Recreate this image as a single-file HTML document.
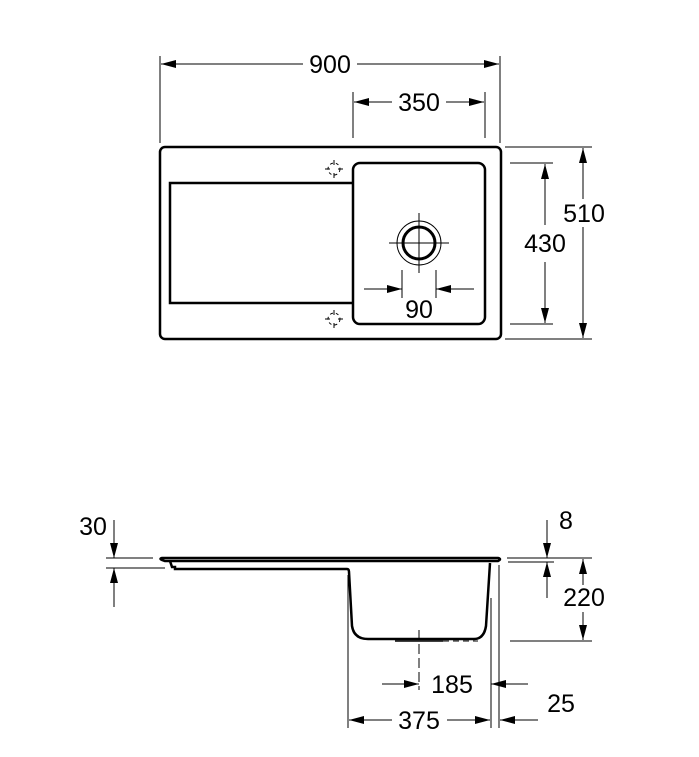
<!DOCTYPE html>
<html><head><meta charset="utf-8"><style>
html,body{margin:0;padding:0;background:#fff;}
svg{display:block;}
text{font-family:"Liberation Sans",Arial,sans-serif;font-size:25px;fill:#000;}
</style></head><body>
<svg width="699" height="757" viewBox="0 0 699 757" xmlns="http://www.w3.org/2000/svg">
<defs>
<marker id="a" markerWidth="15" markerHeight="8" refX="15" refY="4" orient="auto" markerUnits="userSpaceOnUse">
<path d="M0,0 L15,4 L0,8 Z" fill="#000"/>
</marker>
</defs>
<g stroke="#000" stroke-width="1" fill="none">
<line x1="160" y1="56" x2="160" y2="143"/>
<line x1="500" y1="56" x2="500" y2="143"/>
<line x1="303" y1="64" x2="161" y2="64" marker-end="url(#a)"/>
<line x1="357" y1="64" x2="499" y2="64" marker-end="url(#a)"/>
<line x1="353" y1="92" x2="353" y2="138"/>
<line x1="485" y1="92" x2="485" y2="138"/>
<line x1="392" y1="102" x2="354" y2="102" marker-end="url(#a)"/>
<line x1="446" y1="102" x2="484" y2="102" marker-end="url(#a)"/>
<line x1="505" y1="147" x2="592" y2="147"/>
<line x1="505" y1="339" x2="592" y2="339"/>
<line x1="583" y1="243" x2="583" y2="148" marker-end="url(#a)"/>
<line x1="583" y1="243" x2="583" y2="338" marker-end="url(#a)"/>
<line x1="510" y1="163" x2="553" y2="163"/>
<line x1="510" y1="324" x2="553" y2="324"/>
<line x1="545" y1="225" x2="545" y2="164" marker-end="url(#a)"/>
<line x1="545" y1="262" x2="545" y2="323" marker-end="url(#a)"/>
<rect x="160" y="147" width="341" height="192" rx="5" stroke-width="2.5"/>
<path d="M352,183 L170,183 L170,303 L352,303" stroke-width="2.5"/>
<rect x="353" y="163" width="132" height="161" rx="7" stroke-width="2.5"/>
<circle cx="419" cy="243" r="16" stroke-width="3"/>
<circle cx="419" cy="243" r="22" stroke-width="1"/>
<line x1="389" y1="243" x2="449" y2="243"/>
<line x1="419" y1="213" x2="419" y2="273"/>
<line x1="402" y1="270" x2="402" y2="298"/>
<line x1="436" y1="270" x2="436" y2="298"/>
<line x1="364" y1="289" x2="402" y2="289" marker-end="url(#a)"/>
<line x1="474" y1="289" x2="436" y2="289" marker-end="url(#a)"/>
<g stroke-width="1">
<circle cx="334" cy="169" r="6" stroke-dasharray="3 3"/>
<line x1="334" y1="160" x2="334" y2="165"/><line x1="334" y1="173" x2="334" y2="178"/>
<line x1="325" y1="169" x2="330" y2="169"/><line x1="338" y1="169" x2="343" y2="169"/>
<circle cx="334" cy="319" r="6" stroke-dasharray="3 3"/>
<line x1="334" y1="310" x2="334" y2="315"/><line x1="334" y1="323" x2="334" y2="328"/>
<line x1="325" y1="319" x2="330" y2="319"/><line x1="338" y1="319" x2="343" y2="319"/>
</g>
<path d="M162,558 L498,558 Q502,559 498,561 L165,561 Q158,559 162,558 Z" stroke-width="2.5"/>
<path d="M170,561 L172,567 L175,567 L175,569 L347,569 Q349,569 349,572 L352,626 Q354,639 368,639 L474,639 Q484,639 486,626 L490,563" stroke-width="2.5"/>
<line x1="395" y1="641" x2="443" y2="641" stroke-width="1.5"/>
<line x1="443" y1="641" x2="478" y2="641" stroke-dasharray="6 4"/>
<line x1="419" y1="630" x2="419" y2="690" stroke-dasharray="10 4"/>
<line x1="348" y1="575" x2="348" y2="728"/>
<line x1="491" y1="598" x2="491" y2="728"/>
<line x1="499" y1="565" x2="499" y2="728"/>
<line x1="106" y1="558" x2="153" y2="558"/>
<line x1="106" y1="568" x2="165" y2="568"/>
<line x1="114" y1="520" x2="114" y2="558" marker-end="url(#a)"/>
<line x1="114" y1="607" x2="114" y2="568" marker-end="url(#a)"/>
<line x1="507" y1="558" x2="592" y2="558"/>
<line x1="508" y1="562" x2="554" y2="562"/>
<line x1="547" y1="520" x2="547" y2="558" marker-end="url(#a)"/>
<line x1="547" y1="598" x2="547" y2="562" marker-end="url(#a)"/>
<line x1="510" y1="641" x2="592" y2="641"/>
<line x1="583" y1="585" x2="583" y2="559" marker-end="url(#a)"/>
<line x1="583" y1="612" x2="583" y2="640" marker-end="url(#a)"/>
<line x1="382" y1="684" x2="419" y2="684" marker-end="url(#a)"/>
<line x1="528" y1="684" x2="491" y2="684" marker-end="url(#a)"/>
<line x1="392" y1="720" x2="349" y2="720" marker-end="url(#a)"/>
<line x1="447" y1="720" x2="490" y2="720" marker-end="url(#a)"/>
<line x1="538" y1="720" x2="500" y2="720" marker-end="url(#a)"/>
</g>
<g text-anchor="middle">
<text x="330" y="73">900</text>
<text x="419" y="111">350</text>
<rect x="561" y="199" width="46" height="28" fill="#fff"/>
<text x="584" y="222">510</text>
<text x="545" y="252">430</text>
<text x="419" y="318">90</text>
<text x="93" y="535">30</text>
<text x="566" y="529">8</text>
<text x="584" y="606">220</text>
<text x="452" y="693">185</text>
<text x="419" y="729">375</text>
<text x="561" y="712">25</text>
</g>
</svg>
</body></html>
